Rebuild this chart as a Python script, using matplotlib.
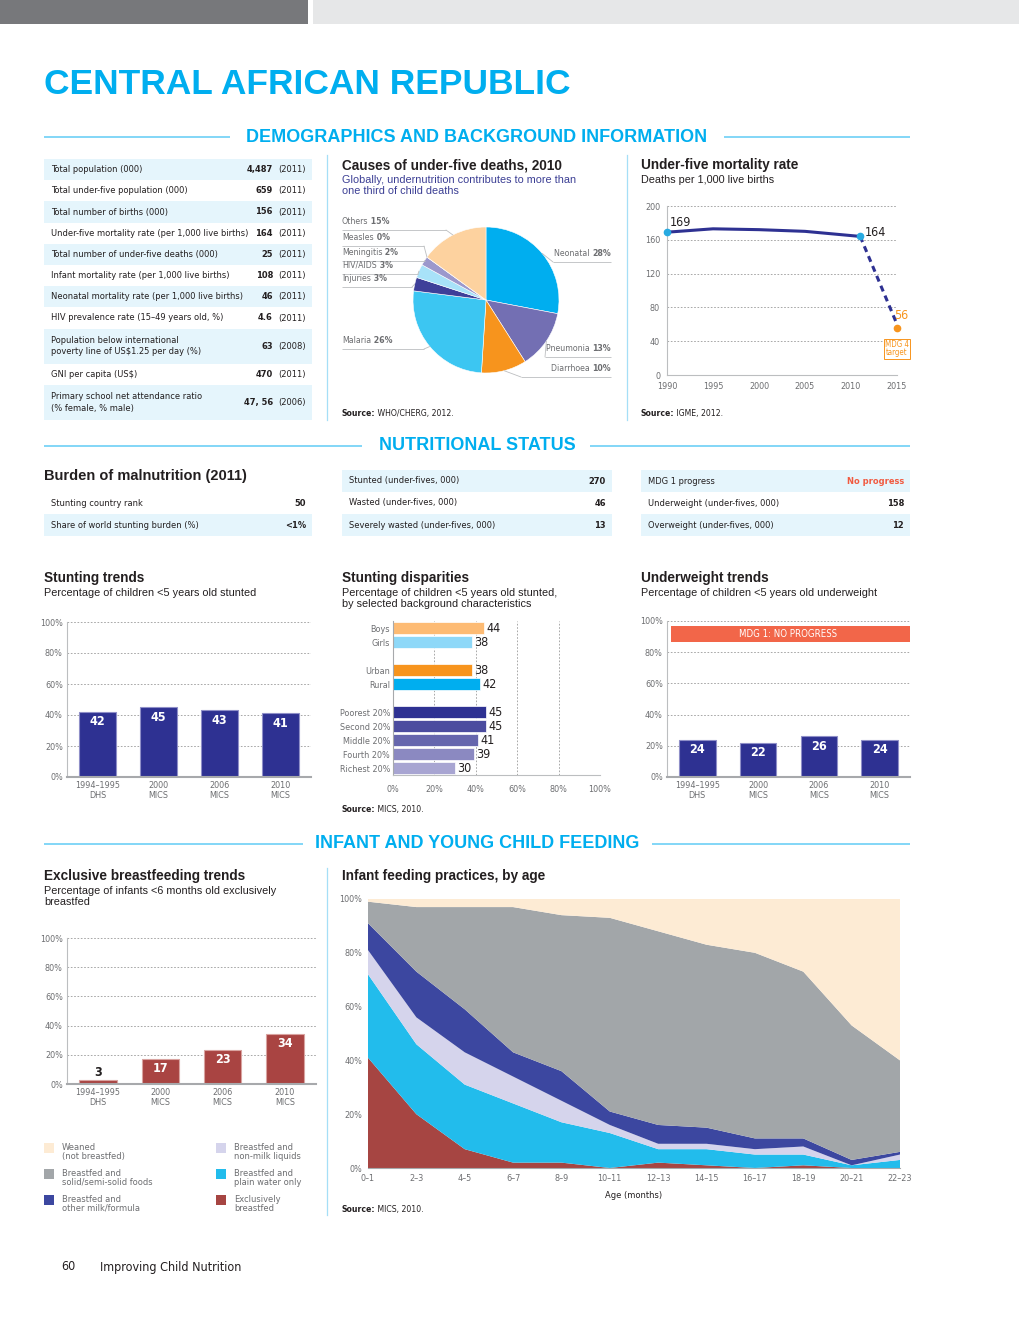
import matplotlib
matplotlib.use("Agg")
import matplotlib.pyplot as plt
from matplotlib import font_manager
import numpy as np

# ---------------- data ----------------
demo_labels = ["Total population (000)", "Total under-five population (000)",
               "Total number of births (000)", "Under-five mortality rate (per 1,000 live births)",
               "Total number of under-five deaths (000)", "Infant mortality rate (per 1,000 live births)",
               "Neonatal mortality rate (per 1,000 live births)", "HIV prevalence rate (15–49 years old, %)",
               "Population below international\npoverty line of US$1.25 per day (%)",
               "GNI per capita (US$)", "Primary school net attendance ratio\n(% female, % male)"]
demo_values = ["4,487", "659", "156", "164", "25", "108", "46", "4.6", "63", "470", "47, 56"]
demo_years = ["(2011)"] * 8 + ["(2008)", "(2011)", "(2006)"]

causes = ["Neonatal", "Pneumonia", "Diarrhoea", "Malaria", "Injuries",
          "HIV/AIDS", "Meningitis", "Measles", "Others"]
cause_pct = [28, 13, 10, 26, 3, 3, 2, 0, 15]

u5mr_years = [1990, 1995, 2000, 2005, 2011]
u5mr = [169, 173, 172, 170, 164]
mdg4_year = 2015
mdg4_target = 56

burden_labels = ["Stunting country rank", "Share of world stunting burden (%)"]
burden_values = ["50", "<1%"]
wasting_labels = ["Stunted (under-fives, 000)", "Wasted (under-fives, 000)",
                  "Severely wasted (under-fives, 000)"]
wasting_values = ["270", "46", "13"]
mdg_labels = ["MDG 1 progress", "Underweight (under-fives, 000)", "Overweight (under-fives, 000)"]
mdg_values = ["No progress", "158", "12"]

surveys = ["1994–1995\nDHS", "2000\nMICS", "2006\nMICS", "2010\nMICS"]
stunting = [42, 45, 43, 41]
underweight = [24, 22, 26, 24]
excl_bf = [3, 17, 23, 34]

disp_labels = ["Boys", "Girls", "Urban", "Rural", "Poorest 20%", "Second 20%",
               "Middle 20%", "Fourth 20%", "Richest 20%"]
disp_values = [44, 38, 38, 42, 45, 45, 41, 39, 30]
disp_group = [0, 0, 1, 1, 2, 2, 2, 2, 2]

age_groups = ["0–1", "2–3", "4–5", "6–7", "8–9", "10–11", "12–13",
              "14–15", "16–17", "18–19", "20–21", "22–23"]
exclusive = [41, 20, 7, 2, 2, 0, 2, 1, 0, 1, 0, 0]
water = [31, 26, 24, 22, 15, 13, 5, 6, 5, 4, 1, 3]
nonmilk = [9, 10, 12, 10, 8, 3, 2, 2, 2, 3, 0, 2]
othermilk = [10, 17, 16, 9, 11, 5, 7, 6, 4, 3, 2, 1]
solid = [8, 24, 38, 54, 58, 72, 72, 68, 69, 62, 50, 34]
weaned = [1, 3, 3, 3, 6, 7, 12, 17, 20, 27, 47, 60]
feed_names = ["Weaned\n(not breastfed)", "Breastfed and\nsolid/semi-solid foods",
              "Breastfed and\nother milk/formula", "Breastfed and\nnon-milk liquids",
              "Breastfed and\nplain water only", "Exclusively\nbreastfed"]

# ---------------- style ----------------
BLUE = "#00aeef"
NAVY = "#2e3192"
DARK = "#231f20"
GREY = "#6d6e71"
SHADE = "#e5f5fc"
RULE = "#6dcff6"

fonts = font_manager.fontManager.ttflist
if any(f.name == "DejaVu Sans" and f.stretch == "condensed" for f in fonts):
    NARROW, STRETCH, SCALE = "DejaVu Sans", "condensed", 0.95
else:
    NARROW, STRETCH, SCALE = "Liberation Sans", "normal", 0.9
WIDE = "Liberation Sans"
plt.rcParams["font.family"] = [WIDE, "DejaVu Sans"]

W, H = 1020, 1320
fig = plt.figure(figsize=(W / 100, H / 100), dpi=100)
bg = fig.add_axes([0, 0, 1, 1], zorder=-5)
bg.set_xlim(0, W)
bg.set_ylim(H, 0)
bg.axis("off")


def AX(x0, y0, x1, y1):
    return fig.add_axes([x0 / W, 1 - y1 / H, (x1 - x0) / W, (y1 - y0) / H])


def NF(size):
    return dict(family=NARROW, stretch=STRETCH, fontsize=size * SCALE)


def T(x, y, s, size=7, color=DARK, weight="normal", ha="left", va="center", fam=None, **kw):
    if fam is None:
        kw.update(NF(size))
    else:
        kw.update(family=fam, fontsize=size)
    return bg.text(x, y, s, color=color, fontweight=weight, ha=ha, va=va, **kw)


def box(x, y, w, h, color):
    bg.add_patch(plt.Rectangle((x, y), w, h, color=color, lw=0))


def hline(x0, x1, y, color=RULE, lw=1.2):
    bg.plot([x0, x1], [y, y], color=color, lw=lw, solid_capstyle="butt")


def narrow_ticks(ax):
    for lab in ax.get_xticklabels() + ax.get_yticklabels():
        lab.set_family(NARROW)
        lab.set_stretch(STRETCH)


def source(x, y, rest):
    t = T(x, y, "Source:", size=6.5, weight="bold", va="bottom")
    bg.annotate(" " + rest, xy=(1, 0), xycoords=t, va="bottom", ha="left",
                color=DARK, **NF(6.5))


def section(y, s, x0, x1):
    T(477, y, s, size=13, color=BLUE, weight="bold", ha="center", fam=WIDE)
    hline(44, x0, y)
    hline(x1, 910, y)


def title(x, y, s, sub=None, subcolor=DARK):
    T(x, y, s, size=9.8, weight="bold", fam=WIDE)
    if sub:
        T(x, y + 10, sub, size=7.8, color=subcolor, va="top", fam=WIDE, linespacing=1.15)


def pct_axis(ax):
    ax.set_ylim(0, 100)
    ax.set_yticks(range(0, 101, 20))
    ax.set_yticklabels([f"{v}%" for v in range(0, 101, 20)])
    ax.yaxis.grid(True, ls=(0, (2, 2)), color="#9a9a9a", lw=0.6)
    ax.set_axisbelow(True)
    for s in ["top", "right"]:
        ax.spines[s].set_visible(False)
    ax.spines["left"].set_color("#bcbec0")
    ax.spines["bottom"].set_color("#a7a9ac")
    ax.spines["bottom"].set_linewidth(1.5)
    ax.tick_params(length=0, labelsize=6.8 * SCALE, labelcolor=GREY, pad=3)
    narrow_ticks(ax)


def bar_panel(ax, vals, color, edge):
    x = np.arange(len(vals))
    ax.bar(x, vals, width=0.6, color=color, edgecolor=edge, lw=0.8)
    ax.set_xlim(-0.5, len(vals) - 0.5)
    ax.set_xticks(x)
    ax.set_xticklabels(surveys, linespacing=1.1)
    pct_axis(ax)
    for xi, v in zip(x, vals):
        if v < 10:
            ax.text(xi, v + 5, str(v), ha="center", va="center", fontweight="bold",
                    color=DARK, **NF(9.5))
        else:
            ax.text(xi, v - 6.5, str(v), ha="center", va="center", fontweight="bold",
                    color="white", **NF(9.5))


# ---------------- header ----------------
box(0, 0, 308, 24, "#77787b")
box(313, 0, 707, 24, "#e6e7e8")
T(44, 84, "CENTRAL AFRICAN REPUBLIC", size=25.5, color=BLUE, weight="bold", fam=WIDE)
section(137, "DEMOGRAPHICS AND BACKGROUND INFORMATION", 230, 724)

for xv in (327, 627):
    bg.plot([xv, xv], [155, 420], color="#a5dff7", lw=0.9)
bg.plot([327, 327], [868, 1215], color="#a5dff7", lw=0.9)

# demographics table
y = 159
for i, (lab, val, yr) in enumerate(zip(demo_labels, demo_values, demo_years)):
    h = 35 if "\n" in lab else 21.2
    if i % 2 == 0:
        box(44, y, 268, h, SHADE)
    T(51, y + h / 2, lab, linespacing=1.35)
    T(273, y + h / 2, val, weight="bold", ha="right")
    T(306, y + h / 2, yr, ha="right")
    y += h

# ---------------- causes of death pie ----------------
title(342, 165, "Causes of under-five deaths, 2010",
      "Globally, undernutrition contributes to more than\none third of child deaths", "#3b3e94")
pie_colors = ["#00aeef", "#736fb3", "#f7941d", "#3cc6f2", "#3e3f99",
              "#a8e2f9", "#9c98cc", "#c8c8c8", "#fdd29f"]
axp = AX(413, 227, 559, 373)
axp.set_zorder(-6)
wedges, _ = axp.pie(cause_pct, colors=pie_colors, startangle=90, counterclock=False,
                    wedgeprops=dict(edgecolor="white", lw=0.4))
axp.set_xlim(-1, 1)
axp.set_ylim(-1, 1)
axp.set_aspect("equal")
axp.axis("off")

# label layout: (text y, underline x end, side)
pie_lab = {"Others": (224, 446, "L"), "Measles": (240, 424, "L"), "Meningitis": (255, 425, "L"),
           "HIV/AIDS": (268, 418, "L"), "Injuries": (281, 412, "L"), "Malaria": (343, 424, "L"),
           "Neonatal": (256, 553, "R"), "Pneumonia": (351, 545, "R"), "Diarrhoea": (371, 521, "R")}
cum = np.cumsum([0] + cause_pct) / 100.0
for i, name in enumerate(causes):
    ty, ex, side = pie_lab[name]
    frac = (cum[i] + cum[i + 1]) / 2 if cause_pct[i] > 0 else cum[i]
    ang = np.pi / 2 - 2 * np.pi * frac
    px, py = np.cos(ang), np.sin(ang)
    uy = ty + 6
    if side == "L":
        t = T(342, ty, name, size=6.6, color=GREY, va="baseline")
        bg.annotate(f" {cause_pct[i]}%", xy=(1, 0), xycoords=t, va="bottom", ha="left",
                    fontweight="bold", color=GREY, **NF(6.6))
        hline(342, ex, uy, color="#bcbec0", lw=0.6)
    else:
        t = T(611, ty, f"{cause_pct[i]}%", size=6.6, color=GREY, weight="bold",
              ha="right", va="baseline")
        bg.annotate(f"{name} ", xy=(0, 0), xycoords=t, va="bottom", ha="right",
                    color=GREY, **NF(6.6))
        hline(ex, 611, uy, color="#bcbec0", lw=0.6)
    axp.annotate("", xy=(px, py), xycoords="data", xytext=(ex, uy), textcoords=bg.transData,
                 arrowprops=dict(arrowstyle="-", color="#bcbec0", lw=0.6, shrinkA=0, shrinkB=0),
                 annotation_clip=False)
source(342, 418, "WHO/CHERG, 2012.")

# ---------------- under-five mortality ----------------
title(641, 165, "Under-five mortality rate", "Deaths per 1,000 live births")
axu = AX(667, 206, 897, 375)
axu.plot(u5mr_years, u5mr, color=NAVY, lw=2.2, solid_capstyle="round")
axu.plot([u5mr_years[-1], mdg4_year], [u5mr[-1], mdg4_target + 4], color=NAVY, lw=2.2,
         ls=(0, (2, 1.5)))
axu.plot([u5mr_years[0], u5mr_years[-1]], [u5mr[0], u5mr[-1]], "o", color="#27aae1",
         ms=4.5, zorder=5, clip_on=False)
axu.plot([mdg4_year], [mdg4_target], "o", color="#f7941d", ms=4.5, zorder=5, clip_on=False)
axu.set_xlim(1990, 2015)
axu.set_ylim(0, 200)
axu.set_xticks(range(1990, 2016, 5))
axu.set_yticks(range(0, 201, 40))
axu.yaxis.grid(True, ls=(0, (2, 2)), color="#9a9a9a", lw=0.6)
for s in ["top", "right"]:
    axu.spines[s].set_visible(False)
axu.spines["left"].set_color("#bcbec0")
axu.spines["bottom"].set_color("#bcbec0")
axu.tick_params(length=0, labelsize=6.8 * SCALE, labelcolor=GREY, pad=5)
narrow_ticks(axu)
axu.annotate(str(u5mr[0]), (u5mr_years[0], u5mr[0]), xytext=(2, 7), textcoords="offset points",
             color=DARK, va="center", **NF(9.5))
axu.annotate(str(u5mr[-1]), (u5mr_years[-1], u5mr[-1]), xytext=(3, 3), textcoords="offset points",
             color=DARK, va="center", **NF(9.5))
axu.annotate(str(mdg4_target), (mdg4_year, mdg4_target), xytext=(3, 9), textcoords="offset points",
             color="#f7941d", va="center", ha="center", annotation_clip=False, **NF(9.5))
axu.annotate("MDG 4\ntarget", (mdg4_year, mdg4_target), xytext=(0, -15), textcoords="offset points",
             color="#f7941d", va="center", ha="center", linespacing=0.95, annotation_clip=False,
             bbox=dict(boxstyle="square,pad=0.15", fc="white", ec="#f7941d", lw=0.7), **NF(6))
source(641, 418, "IGME, 2012.")

# ---------------- nutritional status ----------------
section(446, "NUTRITIONAL STATUS", 362, 590)
T(44, 476, "Burden of malnutrition (2011)", size=10.5, weight="bold", fam=WIDE)


def small_table(x0, x1, y0, labels, values, shade_first, vcolors=None):
    for i, (lab, val) in enumerate(zip(labels, values)):
        yy = y0 + 22 * i
        if (i % 2 == 0) == shade_first:
            box(x0, yy, x1 - x0, 22, SHADE)
        T(x0 + 7, yy + 11, lab)
        c = vcolors[i] if vcolors else DARK
        T(x1 - 6, yy + 11, val, weight="bold", ha="right", color=c)


small_table(44, 312, 492, burden_labels, burden_values, False)
small_table(342, 612, 470, wasting_labels, wasting_values, True)
small_table(641, 910, 470, mdg_labels, mdg_values, True, ["#f15a40", DARK, DARK])

# stunting trends
title(44, 578, "Stunting trends", "Percentage of children <5 years old stunted")
axs = AX(67, 622, 311, 777)
bar_panel(axs, stunting, NAVY, "#8f8fc8")

# stunting disparities
title(342, 578, "Stunting disparities",
      "Percentage of children <5 years old stunted,\nby selected background characteristics")
disp_colors = ["#fdbb74", "#8ed8f8", "#f7941d", "#00aeef", "#2e3192",
               "#4b4c9f", "#6666ad", "#8b89c1", "#a8a5d2"]
axd = AX(393, 621, 600, 775)
pos = np.arange(len(disp_values)) + np.array(disp_group)
axd.barh(pos, disp_values, height=0.82, color=disp_colors, edgecolor="white", lw=0.5)
axd.set_ylim(pos[-1] + 0.5, -0.5)
axd.set_xlim(0, 100)
axd.set_yticks(pos)
axd.set_yticklabels(disp_labels)
axd.set_xticks(range(0, 101, 20))
axd.set_xticklabels([f"{v}%" for v in range(0, 101, 20)])
axd.xaxis.grid(True, ls=(0, (2, 2)), color="#9a9a9a", lw=0.6)
axd.set_axisbelow(True)
for s in ["top", "right"]:
    axd.spines[s].set_visible(False)
axd.spines["left"].set_color("#a7a9ac")
axd.spines["bottom"].set_color("#bcbec0")
axd.tick_params(length=0, labelsize=6.8 * SCALE, labelcolor=GREY, pad=2)
axd.tick_params(axis="x", pad=7)
narrow_ticks(axd)
for p, v in zip(pos, disp_values):
    axd.text(v + 1.2, p, str(v), va="center", ha="left", color=DARK, **NF(9.5))
source(342, 814, "MICS, 2010.")

# underweight trends
title(641, 578, "Underweight trends", "Percentage of children <5 years old underweight")
axw = AX(667, 621, 910, 777)
bar_panel(axw, underweight, NAVY, "#8f8fc8")
axw.axhspan(86.5, 96.5, xmin=0.018, xmax=1, color="#f26649", lw=0, zorder=3)
axw.text(1.5, 91.5, "MDG 1: NO PROGRESS", ha="center", va="center",
         color="white", zorder=4, **NF(7.3))

# ---------------- infant and young child feeding ----------------
section(844, "INFANT AND YOUNG CHILD FEEDING", 303, 652)
title(44, 876, "Exclusive breastfeeding trends",
      "Percentage of infants <6 months old exclusively\nbreastfed")
axe = AX(67, 938, 316, 1084)
bar_panel(axe, excl_bf, "#a94442", "#d9a3a0")

feed_colors = ["#fdebd4", "#a2a6a9", "#3c47a0", "#d5d4ec", "#22bcec", "#a64542"]
for i, (name, c) in enumerate(zip(feed_names, feed_colors)):
    cx = 44 if i < 3 else 216
    cy = 1148 + 26 * (i % 3)
    box(cx, cy - 5, 10, 10, c)
    T(cx + 18, cy - 5.5, name, size=7, color=GREY, va="top", linespacing=1.05)

title(342, 876, "Infant feeding practices, by age")
axf = AX(368, 899, 900, 1168)
xs = np.arange(len(age_groups))
axf.stackplot(xs, exclusive, water, nonmilk, othermilk, solid, weaned,
              colors=feed_colors[::-1], lw=0)
axf.set_xlim(0, len(age_groups) - 1)
axf.set_ylim(0, 100)
axf.set_xticks(xs)
axf.set_xticklabels(age_groups)
axf.set_yticks(range(0, 101, 20))
axf.set_yticklabels([f"{v}%" for v in range(0, 101, 20)])
for s in ["top", "right", "left"]:
    axf.spines[s].set_visible(False)
axf.spines["bottom"].set_color("#a7a9ac")
axf.tick_params(length=0, labelsize=6.8 * SCALE, labelcolor=GREY, pad=4)
narrow_ticks(axf)
axf.set_xlabel("Age (months)", color=DARK, labelpad=6, **NF(7))
source(342, 1214, "MICS, 2010.")

# footer
T(61, 1267, "60", size=9.5, color=DARK)
T(100, 1267, "Improving Child Nutrition", size=9.5, color=DARK)

fig.savefig("out.png", dpi=100)
